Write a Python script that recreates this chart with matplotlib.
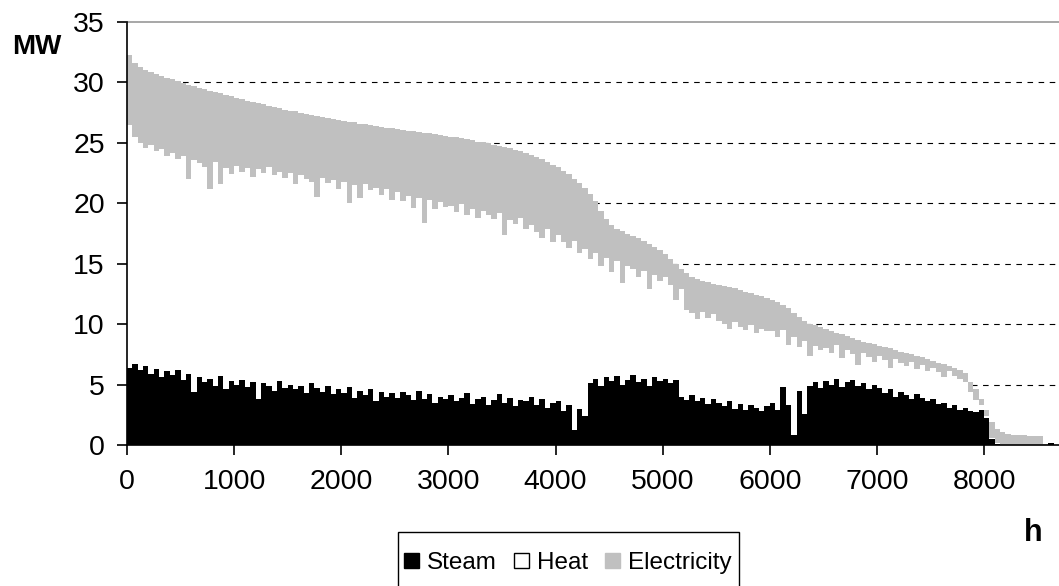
import numpy as np
import matplotlib.pyplot as plt
from matplotlib.patches import Patch, Rectangle

plt.rcParams['font.family'] = ['Liberation Sans', 'DejaVu Sans']

# hourly duration curve, one value per 50 h block
bin_width = 50
hours = np.arange(0, 8700, bin_width)

# top of the grey area (steam + heat + electricity)
total_mw = [
    32.3, 31.6, 31.3, 31.0, 30.85, 30.7, 30.55, 30.4, 30.25, 30.1,
    29.95, 29.8, 29.7, 29.55, 29.45, 29.3, 29.2, 29.1, 28.95, 28.85,
    28.7, 28.6, 28.5, 28.4, 28.3, 28.2, 28.05, 27.95, 27.85, 27.75,
    27.65, 27.6, 27.5, 27.4, 27.3, 27.25, 27.15, 27.05, 27.0, 26.9,
    26.8, 26.75, 26.7, 26.6, 26.55, 26.45, 26.4, 26.3, 26.25, 26.2,
    26.15, 26.1, 26.0, 25.95, 25.9, 25.85, 25.8, 25.7, 25.65, 25.6,
    25.5, 25.45, 25.4, 25.3, 25.2, 25.1, 25.05, 24.95, 24.85, 24.75,
    24.65, 24.55, 24.4, 24.3, 24.15, 24.0, 23.8, 23.65, 23.45, 23.2,
    23.0, 22.7, 22.4, 22.0, 21.7, 21.3, 20.8, 20.2, 19.4, 18.7,
    18.2, 17.9, 17.7, 17.5, 17.3, 17.1, 16.9, 16.65, 16.4, 16.1,
    15.8, 15.4, 15.0, 14.6, 14.2, 13.9, 13.7, 13.55, 13.45, 13.35,
    13.25, 13.15, 13.05, 12.95, 12.8, 12.7, 12.55, 12.4, 12.3, 12.15,
    12.0, 11.8, 11.6, 11.3, 10.95, 10.6, 10.3, 10.05, 9.9, 9.75,
    9.6, 9.45, 9.3, 9.15, 9.0, 8.85, 8.7, 8.55, 8.45, 8.35,
    8.2, 8.1, 8.0, 7.85, 7.7, 7.6, 7.5, 7.35, 7.25, 7.1,
    6.95, 6.8, 6.7, 6.55, 6.4, 6.2, 5.95, 5.2, 4.6, 3.8,
    2.9, 1.9, 1.3, 1.05, 0.9, 0.85, 0.8, 0.8, 0.75, 0.75,
    0.75, 0.1, 0.2, 0.0,
]

# bottom of the grey area (steam + heat)
steam_heat_mw = [
    26.5, 25.5, 25.0, 24.6, 24.8, 24.3, 24.5, 23.9, 24.2, 23.7,
    23.9, 22.0, 23.6, 23.3, 23.0, 21.2, 23.4, 21.6, 22.9, 22.4,
    23.1, 22.6, 22.9, 22.2, 22.8, 22.5, 23.0, 22.3, 22.6, 22.1,
    22.5, 21.6, 22.3, 22.0, 21.8, 20.5, 22.1, 21.7, 21.9, 21.2,
    21.8, 20.0, 21.5, 20.4, 21.6, 21.1, 21.3, 20.7, 21.2, 20.3,
    20.9, 20.2, 20.6, 19.6, 20.4, 18.4, 20.3, 19.5, 20.1, 19.7,
    19.8, 19.3, 19.9, 19.0, 19.5, 18.8, 19.4, 19.0, 18.7, 19.2,
    17.4, 18.6, 18.3, 18.8, 17.9, 18.2, 17.6, 17.1, 17.9, 16.8,
    17.4, 16.8, 16.3, 16.9, 15.9, 16.2, 15.4, 15.9, 14.8, 15.5,
    14.3, 15.2, 13.4, 14.8, 14.6, 13.9, 14.4, 12.9, 14.1, 13.6,
    13.9, 13.2, 12.0, 12.9, 11.2, 10.9, 10.4, 11.0, 10.5, 10.8,
    10.3, 10.0, 9.6, 10.2, 9.8, 9.5, 9.9, 9.3, 9.6, 9.4,
    9.4, 8.9, 9.5, 8.3, 8.9, 8.1, 8.6, 7.4, 8.2, 7.9,
    8.0, 7.6, 8.3, 7.2, 7.9, 7.5, 6.6, 7.6, 7.3, 6.9,
    7.4, 7.0, 6.4, 7.1, 6.8, 6.5, 6.9, 6.3, 6.6, 6.1,
    6.4, 6.0, 5.6, 6.1, 5.7, 5.5, 5.2, 4.4, 3.7, 3.3,
    2.4, 0.6, 0.2, 0.0, 0.0, 0.0, 0.0, 0.0, 0.0, 0.0,
    0.0, 0.0, 0.2, 0.0,
]

# top of the black area (steam)
steam_mw = [
    6.4, 6.7, 6.2, 6.5, 5.9, 6.3, 5.6, 6.1, 5.8, 6.2,
    5.4, 5.9, 4.4, 5.6, 5.2, 5.5, 4.9, 5.7, 4.6, 5.3,
    5.0, 5.4, 4.8, 5.2, 3.8, 5.1, 4.9, 4.5, 5.3, 4.7,
    5.0, 4.6, 4.9, 4.3, 5.1, 4.7, 4.4, 4.9, 4.2, 4.6,
    4.3, 4.8, 3.9, 4.5, 4.1, 4.6, 3.6, 4.4, 4.0, 4.3,
    3.9, 4.4, 4.1, 3.7, 4.5, 3.8, 4.2, 3.5, 4.0, 3.8,
    4.1, 3.6, 3.9, 4.3, 3.4, 3.8, 4.0, 3.3, 3.7, 4.2,
    3.5, 3.9, 3.2, 3.7, 3.6, 4.0, 3.3, 3.8, 3.1, 3.5,
    3.6, 2.8, 3.3, 1.2, 3.0, 2.4, 5.1, 5.5, 4.9, 5.6,
    5.3, 5.7, 5.0, 5.4, 5.8, 5.2, 5.5, 4.9, 5.6, 5.3,
    5.5, 5.1, 5.4, 4.0, 3.7, 4.1, 3.6, 3.9, 3.4, 3.8,
    3.5, 3.2, 3.6, 3.0, 3.4, 2.9, 3.3, 3.1, 2.8, 3.2,
    3.5, 2.9, 4.8, 3.3, 0.8, 4.5, 2.6, 4.9, 5.2, 4.7,
    5.3, 5.0, 5.5, 4.8, 5.2, 5.4, 4.9, 5.1, 4.6, 5.0,
    4.7, 4.3, 4.6, 4.0, 4.4, 4.1, 3.8, 4.2, 3.9, 3.6,
    3.8, 3.4, 3.5, 3.1, 3.3, 2.9, 3.1, 2.8, 2.7, 2.9,
    2.2, 0.5, 0.1, 0.0, 0.0, 0.0, 0.0, 0.0, 0.0, 0.0,
    0.0, 0.0, 0.2, 0.0,
]

labels = ['Steam', 'Heat', 'Electricity']
colors = ['black', 'white', '#c0c0c0']

steam = np.array(steam_mw)
heat = np.clip(np.array(steam_heat_mw) - steam, 0, None)
electricity = np.clip(np.array(total_mw) - np.array(steam_heat_mw), 0, None)

# step edges for fill_between
x = np.append(hours, hours[-1] + bin_width)
def edge(v):
    return np.append(v, v[-1])

fig = plt.figure(figsize=(10.59, 5.86), dpi=100)
ax = fig.add_axes([127 / 1059, 141 / 586, 932 / 1059, 423 / 586])

base = np.zeros(len(hours))
for vals, c in zip([steam, heat, electricity], colors):
    ax.fill_between(x, edge(base), edge(base + vals), step='post',
                    color=c, linewidth=0, zorder=2)
    base = base + vals

ax.hlines(np.arange(5, 35, 5), 0, 8700, colors='black', linewidth=0.8,
          linestyles=(0, (5, 5)), zorder=1)

ax.set_xlim(0, 8700)
ax.set_ylim(0, 35)
ax.set_xticks(np.arange(0, 9000, 1000))
ax.set_yticks(np.arange(0, 40, 5))

ax.spines['right'].set_visible(False)
ax.spines['top'].set_color('#a0a0a0')
ax.spines['top'].set_linewidth(1.3)
for s in ['left', 'bottom']:
    ax.spines[s].set_color('black')
    ax.spines[s].set_linewidth(1.2)
    ax.spines[s].set_zorder(3)

ax.tick_params(axis='both', direction='out', length=7, width=1.2, color='black')
ax.tick_params(axis='y', labelsize=20.5, pad=9)
ax.tick_params(axis='x', labelsize=20.5, pad=10)

fig.text(37 / 1059, 1 - 47.5 / 586, 'MW', fontsize=20, fontweight='bold',
         ha='center', va='center')
fig.text(1033 / 1059, 1 - 533 / 586, 'h', fontsize=22, fontweight='bold',
         ha='center', va='center')

handles = [Patch(facecolor='black', edgecolor='black'),
           Patch(facecolor='white', edgecolor='black', linewidth=1),
           Patch(facecolor='#c0c0c0', edgecolor='#c0c0c0')]
fig.legend(handles, labels, loc='center', bbox_to_anchor=(568 / 1059, 1 - 563 / 586),
           ncol=3, frameon=False, fontsize=17.5, handlelength=0.6, handleheight=0.6,
           handletextpad=0.35, columnspacing=0.7)
fig.patches.append(Rectangle((398 / 1059, -0.05), (739 - 398) / 1059, (586 - 532) / 586 + 0.05,
                             transform=fig.transFigure, fill=False,
                             edgecolor='black', linewidth=1))

fig.savefig('out.png', dpi=100)
